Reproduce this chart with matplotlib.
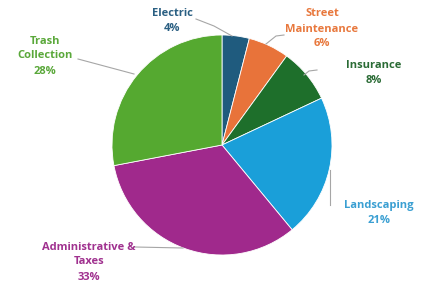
import matplotlib.pyplot as plt

labels = ["Electric", "Street\nMaintenance", "Insurance", "Landscaping",
          "Administrative &\nTaxes", "Trash\nCollection"]
values = [4, 6, 8, 21, 33, 28]
colors = ["#1f5b7e", "#e8733a", "#1e6f2b", "#1a9fd9", "#a0298c", "#55a930"]
text_colors = ["#2a5f82", "#e8783d", "#2a6b35", "#3a9fd2", "#a0318f", "#5aa83a"]

W, H = 428, 287
fig = plt.figure(figsize=(W / 100, H / 100), dpi=100)
ax = fig.add_axes([0, 0, 1, 1])

cx, cy, r = 222, 145, 110
# y axis is inverted, so counterclock=True draws clockwise on screen
ax.pie(values, colors=colors, startangle=-90, counterclock=True,
       center=(cx, cy), radius=r, frame=True,
       wedgeprops=dict(edgecolor="white", linewidth=0.6))
ax.set_xlim(0, W)
ax.set_ylim(H, 0)
ax.set_aspect("equal")
ax.axis("off")

# label text positions (centre of text block) and leader lines
label_pos = [(172, 21), (322, 29), (374, 73), (379, 213), (89, 262), (45, 56)]
leaders = [
    [(196, 19), (214, 26), (232, 36)],
    [(284, 35), (276, 36), (266, 44)],
    [(317, 70), (309, 71), (304, 75)],
    [(330, 170), (330, 205)],
    [(135, 247), (183, 248)],
    [(78, 59), (134, 74)],
]

for lab, v, tc, pos, ln in zip(labels, values, text_colors, label_pos, leaders):
    xs = [p[0] for p in ln]
    ys = [p[1] for p in ln]
    ax.plot(xs, ys, color="#a6a6a6", linewidth=0.8)
    ax.text(pos[0], pos[1], f"{lab}\n{v}%", ha="center", va="center",
            color=tc, fontsize=8, fontweight="bold", family="Open Sans",
            linespacing=1.5)

plt.savefig("out.png", dpi=100)
plt.close()
